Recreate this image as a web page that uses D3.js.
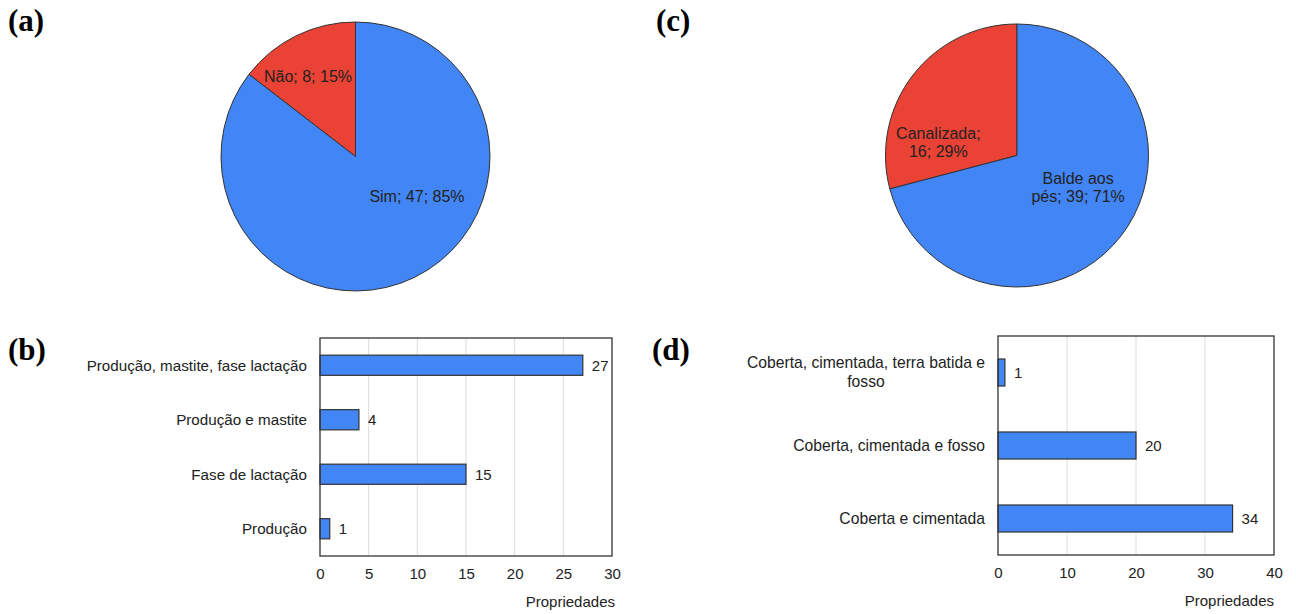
<!DOCTYPE html>
<html>
<head>
<meta charset="utf-8">
<script src="https://cdn.jsdelivr.net/npm/d3@7"></script>
<style>
  body { margin: 0; background: #fff; }
  text { font-family: "Liberation Sans", Arial, sans-serif; fill: #222; }
  .panel { font-family: "Liberation Serif", "Times New Roman", serif; font-weight: bold; font-size: 31px; fill: #000; }
  .grid line { stroke: #dcdcdc; stroke-width: 1; }
</style>
</head>
<body>
<script>
// Pie (a)
var pieA_labels = ["Não", "Sim"];
var pieA_values = [8, 47];

// Pie (c)
var pieC_labels = ["Canalizada", "Balde aos pés"];
var pieC_values = [16, 39];

// Bars (b)
var barB_categories = ["Produção, mastite, fase lactação", "Produção e mastite", "Fase de lactação", "Produção"];
var barB_values = [27, 4, 15, 1];
var barB_ticks = [0, 5, 10, 15, 20, 25, 30];

// Bars (d)
var barD_categories = ["Coberta, cimentada, terra batida e fosso", "Coberta, cimentada e fosso", "Coberta e cimentada"];
var barD_values = [1, 20, 34];
var barD_ticks = [0, 10, 20, 30, 40];

var axis_title = "Propriedades";
var slice_colors = ["#ea4335", "#4285f4"];
var bar_color = "#4285f4";

var width = 1296, height = 614;

var svg = d3.select("body")
    .append("svg")
    .attr("width", width)
    .attr("height", height);

// panel letters
var panels = [["(a)", 8, 31], ["(c)", 656, 31], ["(b)", 8, 360], ["(d)", 652, 360]];
svg.selectAll(".panel")
    .data(panels)
    .enter().append("text")
    .attr("class", "panel")
    .attr("x", function(d) { return d[1]; })
    .attr("y", function(d) { return d[2]; })
    .text(function(d) { return d[0]; });

// split text into lines no wider than maxW
function wrapLines(sel, str, maxW, size) {
    var words = str.split(" ");
    var lines = [];
    var cur = "";
    var probe = sel.append("text").attr("visibility", "hidden").style("font-size", size);
    words.forEach(function(w) {
        var test = cur ? cur + " " + w : w;
        probe.text(test);
        if (cur && probe.node().getComputedTextLength() > maxW) {
            lines.push(cur);
            cur = w;
        } else {
            cur = test;
        }
    });
    lines.push(cur);
    probe.remove();
    return lines;
}

function drawPie(cx, cy, r, labels, values, spots, wrapW) {
    var total = d3.sum(values);
    var start = -2 * Math.PI * values[0] / total;
    var pie = d3.pie().sort(null).startAngle(start).endAngle(start + 2 * Math.PI);
    var arc = d3.arc().innerRadius(0).outerRadius(r);
    var g = svg.append("g").attr("transform", "translate(" + cx + "," + cy + ")");

    g.selectAll("path")
        .data(pie(values))
        .enter().append("path")
        .attr("d", arc)
        .attr("fill", function(d, i) { return slice_colors[i]; })
        .attr("stroke", "#333")
        .attr("stroke-width", 1);

    labels.forEach(function(name, i) {
        var pct = Math.round(values[i] / total * 100);
        var str = name + "; " + values[i] + "; " + pct + "%";
        var a = spots[i][0] * Math.PI / 180;
        var px = Math.sin(a) * r * spots[i][1];
        var py = -Math.cos(a) * r * spots[i][1];
        var t = g.append("text")
            .attr("text-anchor", "middle")
            .style("font-size", "16px");
        var lines = wrapLines(g, str, wrapW, "16px");
        var lh = 18;
        lines.forEach(function(l, k) {
            t.append("tspan")
                .attr("x", px)
                .attr("y", py + (k - (lines.length - 1) / 2) * lh)
                .attr("dy", "0.35em")
                .text(l);
        });
    });
}

// label spots: [angle from 12 o'clock, fraction of radius]
drawPie(355.5, 156.5, 134.5, pieA_labels, pieA_values, [[-30.8, 0.69], [123, 0.545]], 200);
drawPie(1017, 155.5, 131.5, pieC_labels, pieC_values, [[-80.3, 0.607], [117.9, 0.526]], 95);

function drawBars(x0, x1, y0, y1, cats, vals, ticks, labelW, labelSize, titleDx) {
    var x = d3.scaleLinear().domain([0, d3.max(ticks)]).range([x0, x1]);
    var y = d3.scaleBand().domain(cats).range([y0, y1]).padding(0);
    var barH = y.bandwidth() * 0.37;
    var g = svg.append("g");

    // gridlines
    g.append("g").attr("class", "grid")
        .selectAll("line")
        .data(ticks.slice(1, -1))
        .enter().append("line")
        .attr("x1", function(d) { return x(d); })
        .attr("x2", function(d) { return x(d); })
        .attr("y1", y0)
        .attr("y2", y1);

    // bars
    g.selectAll("rect.bar")
        .data(vals)
        .enter().append("rect")
        .attr("class", "bar")
        .attr("x", x(0))
        .attr("y", function(d, i) { return y(cats[i]) + y.bandwidth() / 2 - barH / 2; })
        .attr("width", function(d) { return x(d) - x(0); })
        .attr("height", barH)
        .attr("fill", bar_color)
        .attr("stroke", "#333")
        .attr("stroke-width", 1.2);

    // value labels
    g.selectAll("text.val")
        .data(vals)
        .enter().append("text")
        .attr("class", "val")
        .attr("x", function(d) { return x(d) + 9; })
        .attr("y", function(d, i) { return y(cats[i]) + y.bandwidth() / 2; })
        .attr("dy", "0.35em")
        .style("font-size", "15px")
        .text(function(d) { return d; });

    // category labels
    cats.forEach(function(c) {
        var lines = wrapLines(g, c, labelW, labelSize);
        var t = g.append("text").style("font-size", labelSize).attr("text-anchor", "middle");
        var maxW = 0;
        var probe = g.append("text").style("font-size", labelSize);
        lines.forEach(function(l) {
            probe.text(l);
            maxW = Math.max(maxW, probe.node().getComputedTextLength());
        });
        probe.remove();
        var cx = x0 - 13 - maxW / 2;
        var cy = y(c) + y.bandwidth() / 2;
        lines.forEach(function(l, k) {
            t.append("tspan")
                .attr("x", cx)
                .attr("y", cy + (k - (lines.length - 1) / 2) * 19)
                .attr("dy", "0.35em")
                .text(l);
        });
    });

    // box
    g.append("rect")
        .attr("x", x0)
        .attr("y", y0)
        .attr("width", x1 - x0)
        .attr("height", y1 - y0)
        .attr("fill", "none")
        .attr("stroke", "#333")
        .attr("stroke-width", 1.3);

    // x axis
    var xAxis = d3.axisBottom(x).tickValues(ticks).tickSize(0).tickPadding(12);
    var ax = g.append("g")
        .attr("transform", "translate(0," + y1 + ")")
        .call(xAxis);
    ax.select(".domain").remove();
    ax.selectAll("text")
        .style("font-size", "15px")
        .style("font-family", "'Liberation Sans', Arial, sans-serif")
        .attr("fill", "#222");

    // axis title
    g.append("text")
        .attr("x", x1 + titleDx)
        .attr("y", y1 + 51)
        .attr("text-anchor", "end")
        .style("font-size", "15px")
        .text(axis_title);
}

drawBars(320, 612, 338, 556, barB_categories, barB_values, barB_ticks, 300, "15.2px", 3);
drawBars(998, 1274, 336, 555, barD_categories, barD_values, barD_ticks, 250, "15.7px", 0);
</script>
</body>
</html>
